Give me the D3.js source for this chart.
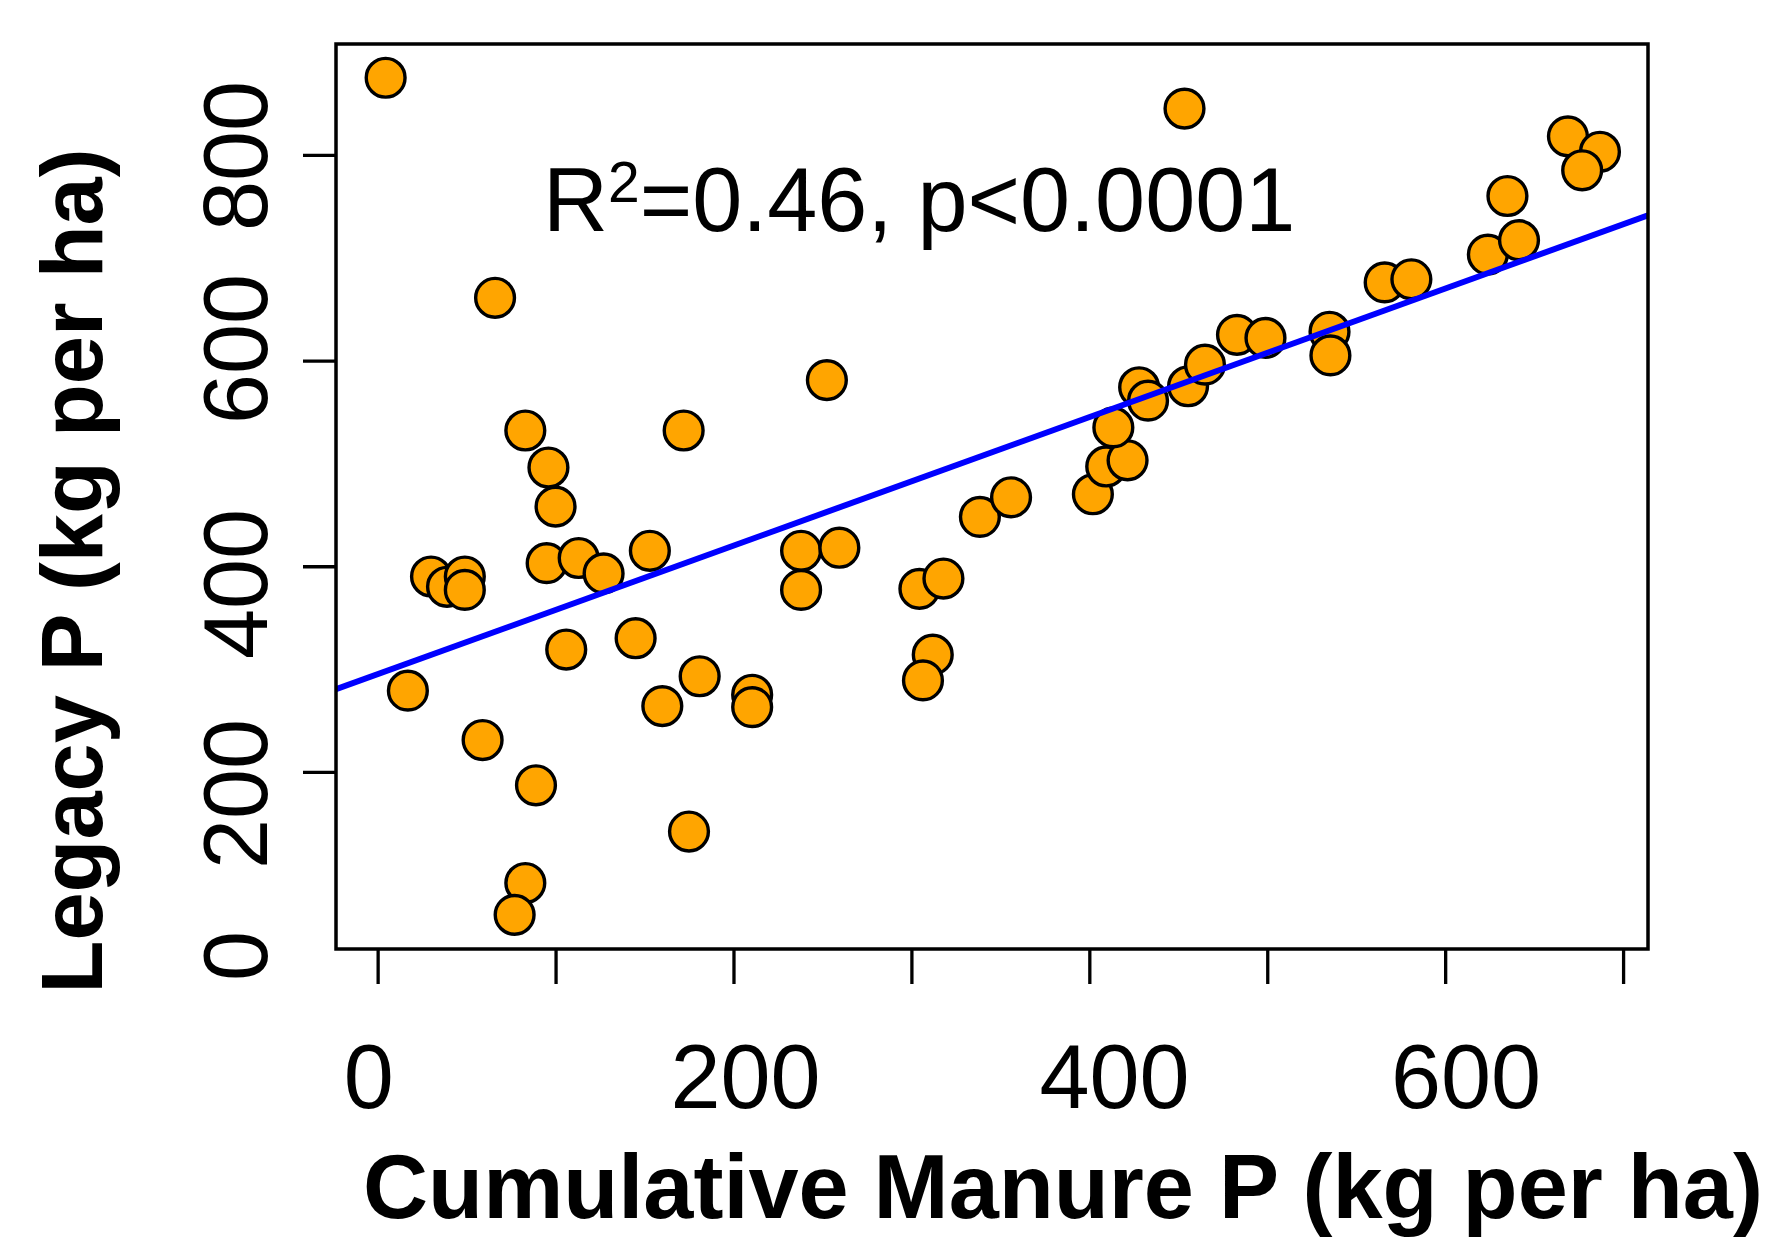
<!DOCTYPE html>
<html>
<head>
<meta charset="utf-8">
<script src="https://cdn.jsdelivr.net/npm/d3@7"></script>
<style>
  body { margin: 0; background: #fff; }
  text { font-family: "Liberation Sans", Arial, sans-serif; fill: #000; }
</style>
</head>
<body>
<svg id="chart" width="1770" height="1238"></svg>
<script>
// cumulative manure P (x) vs legacy P (y), kg per ha
var manureP = [4.5, 66, 83, 96, 100, 95, 113, 127, 30, 39, 49, 49, 17, 59, 89, 83, 77,
  106, 145, 153, 160, 172, 181, 175, 210.5, 210.5, 238, 238, 259.5, 252.5,
  304.5, 318, 312, 306.5, 338.5, 356, 402, 409.5, 421.5, 413.5, 428, 433,
  455.5, 465, 483, 499, 453.5, 535, 535.5, 566, 581, 624, 635, 641.5, 669, 687, 677];
var legacyP = [875, 661, 532, 496, 458, 403, 408, 393, 390, 380, 390, 377, 279, 231, 187, 92, 61,
  319, 330, 415, 264, 532, 293, 142, 275, 263, 415, 377, 418, 581,
  378, 388, 314, 289, 448, 467, 470, 497, 503, 535, 574, 561,
  575, 596, 625, 622, 845, 628, 605, 676, 679, 703, 760, 717, 818, 803, 785];

// fitted line (lm) and its stats
var fitIntercept = 295;
var fitSlope = 0.625;
var statsLabel = ["R", "2", "=0.46, p<0.0001"];

// axis limits and ticks
var xLimits = [-23.4, 714];
var yLimits = [27.8, 907.8];
var xTicks = [0, 100, 200, 300, 400, 500, 600, 700];
var yTicks = [200, 400, 600, 800];
var xTickLabels = [0, 200, 400, 600];
var yTickLabels = [0, 200, 400, 600, 800];

var xTitle = "Cumulative Manure P (kg per ha)";
var yTitle = "Legacy P (kg per ha)";

var svg = d3.select('#chart');
var box = {left: 336, right: 1648, top: 44, bottom: 949};

var x = d3.scaleLinear().domain(xLimits).range([box.left, box.right]);
var y = d3.scaleLinear().domain(yLimits).range([box.bottom, box.top]);

// tick labels were placed by hand in the original, so they get their own scales
var xLabelPos = d3.scaleLinear().domain(xTickLabels).range([368.7, 745.5, 1114.5, 1466]);
var yLabelPos = d3.scaleLinear().domain(yTickLabels).range([956, 794, 584, 349, 156]);

function fitText(sel, width) {
  // scale font so the text spans the measured width
  var fs = parseFloat(sel.attr('font-size'));
  var len = sel.node().getComputedTextLength();
  sel.attr('font-size', fs * width / len);
}

svg.append('rect').attr('width', 1770).attr('height', 1238).attr('fill', '#fff');

svg.append('defs').append('clipPath').attr('id', 'plot-clip')
  .append('rect')
  .attr('x', box.left).attr('y', box.top)
  .attr('width', box.right - box.left).attr('height', box.bottom - box.top);

// tick marks
var xAxis = d3.axisBottom(x).tickValues(xTicks).tickFormat('').tickSize(35).tickSizeOuter(0);
var yAxis = d3.axisLeft(y).tickValues(yTicks).tickFormat('').tickSize(33).tickSizeOuter(0);

var gx = svg.append('g').attr('transform', 'translate(0,' + box.bottom + ')').call(xAxis);
var gy = svg.append('g').attr('transform', 'translate(' + box.left + ',0)').call(yAxis);
gx.select('.domain').remove();
gy.select('.domain').remove();
svg.selectAll('.tick line').attr('stroke', '#000').attr('stroke-width', 3.3);

svg.append('g').selectAll('text')
  .data(xTickLabels)
  .enter().append('text')
  .attr('x', function(d) { return xLabelPos(d); })
  .attr('y', 1108)
  .attr('text-anchor', 'middle')
  .attr('font-size', 90)
  .text(function(d) { return d; });

svg.append('g').selectAll('text')
  .data(yTickLabels)
  .enter().append('text')
  .attr('transform', function(d) { return 'translate(267,' + yLabelPos(d) + ') rotate(-90)'; })
  .attr('text-anchor', 'middle')
  .attr('font-size', 90)
  .text(function(d) { return d; });

// points
svg.append('g').selectAll('circle')
  .data(manureP)
  .enter().append('circle')
  .attr('cx', function(d) { return x(d); })
  .attr('cy', function(d, i) { return y(legacyP[i]); })
  .attr('r', 19.4)
  .attr('fill', 'orange')
  .attr('stroke', '#000')
  .attr('stroke-width', 3.4);

// regression line, drawn over the points like abline()
svg.append('line')
  .attr('clip-path', 'url(#plot-clip)')
  .attr('x1', x(xLimits[0])).attr('y1', y(fitIntercept + fitSlope * xLimits[0]))
  .attr('x2', x(xLimits[1])).attr('y2', y(fitIntercept + fitSlope * xLimits[1]))
  .attr('stroke', '#0000ff')
  .attr('stroke-width', 6);

// plot frame
svg.append('rect')
  .attr('x', box.left).attr('y', box.top)
  .attr('width', box.right - box.left).attr('height', box.bottom - box.top)
  .attr('fill', 'none').attr('stroke', '#000').attr('stroke-width', 3.5);

// stats annotation
var stats = svg.append('text').attr('x', 543).attr('y', 230.7).attr('font-size', 90);
stats.append('tspan').text(statsLabel[0]);
stats.append('tspan').attr('font-size', 57).attr('dy', -29).text(statsLabel[1]);
stats.append('tspan').attr('dy', 29).text(statsLabel[2]);

// axis titles
var xt = svg.append('text')
  .attr('x', 1063).attr('y', 1218)
  .attr('text-anchor', 'middle')
  .attr('font-weight', 'bold')
  .attr('font-size', 88)
  .text(xTitle);
fitText(xt, 1400);

var yt = svg.append('text')
  .attr('transform', 'translate(101.7,571) rotate(-90)')
  .attr('text-anchor', 'middle')
  .attr('font-weight', 'bold')
  .attr('font-size', 88)
  .text(yTitle);
fitText(yt, 845);
</script>
</body>
</html>
